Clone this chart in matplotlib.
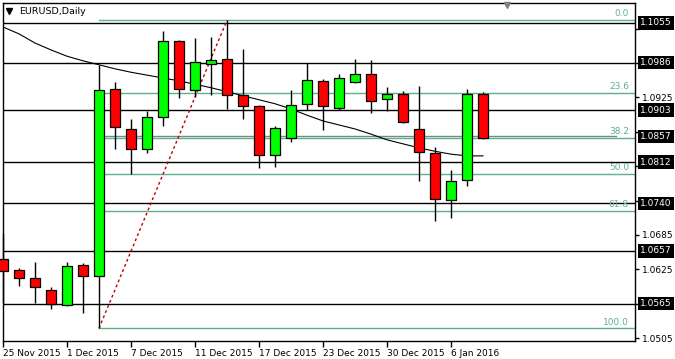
import matplotlib
matplotlib.use('Agg')
import matplotlib.pyplot as plt
from matplotlib.patches import Rectangle
from matplotlib.transforms import blended_transform_factory

# ---------------- data ----------------
dates = ['25 Nov 2015', '26 Nov 2015', '27 Nov 2015', '30 Nov 2015', '1 Dec 2015',
         '2 Dec 2015', '3 Dec 2015', '4 Dec 2015', '7 Dec 2015', '8 Dec 2015',
         '9 Dec 2015', '10 Dec 2015', '11 Dec 2015', '14 Dec 2015', '15 Dec 2015',
         '16 Dec 2015', '17 Dec 2015', '18 Dec 2015', '21 Dec 2015', '22 Dec 2015',
         '23 Dec 2015', '24 Dec 2015', '28 Dec 2015', '29 Dec 2015', '30 Dec 2015',
         '31 Dec 2015', '4 Jan 2016', '5 Jan 2016', '6 Jan 2016', '7 Jan 2016',
         '8 Jan 2016']
opens = [1.0643, 1.0624, 1.0610, 1.0589, 1.0563, 1.0632, 1.0613, 1.0940, 1.0870, 1.0835,
         1.0891, 1.1024, 1.0938, 1.0983, 1.0992, 1.0929, 1.0910, 1.0825, 1.0854, 1.0914,
         1.0954, 1.0907, 1.0952, 1.0966, 1.0922, 1.0931, 1.0870, 1.0828, 1.0746, 1.0781,
         1.0931]
highs = [1.0688, 1.0627, 1.0638, 1.0594, 1.0638, 1.0636, 1.0982, 1.0952, 1.0887, 1.0901,
         1.1041, 1.1026, 1.1029, 1.1031, 1.1060, 1.1010, 1.0912, 1.0875, 1.0938, 1.0985,
         1.0957, 1.0966, 1.0992, 1.0990, 1.0943, 1.0936, 1.0945, 1.0838, 1.0798, 1.0940,
         1.0935]
lows = [1.0566, 1.0596, 1.0566, 1.0556, 1.0561, 1.0549, 1.0522, 1.0835, 1.0791, 1.0828,
        1.0875, 1.0924, 1.0926, 1.0929, 1.0905, 1.0887, 1.0802, 1.0804, 1.0847, 1.0903,
        1.0868, 1.0903, 1.0950, 1.0898, 1.0901, 1.0880, 1.0779, 1.0709, 1.0715, 1.0770,
        1.0852]
closes = [1.0622, 1.0610, 1.0594, 1.0564, 1.0631, 1.0613, 1.0938, 1.0873, 1.0835, 1.0891,
          1.1024, 1.0940, 1.0987, 1.0990, 1.0929, 1.0910, 1.0825, 1.0872, 1.0912, 1.0955,
          1.0910, 1.0959, 1.0966, 1.0919, 1.0931, 1.0882, 1.0830, 1.0748, 1.0779, 1.0931,
          1.0854]
ma_values = [1.1048, 1.1036, 1.1020, 1.1008, 1.0997, 1.0989, 1.0982, 1.0975, 1.0969, 1.0964,
             1.0959, 1.0954, 1.0948, 1.0942, 1.0935, 1.0928, 1.0921, 1.0914, 1.0905, 1.0894,
             1.0884, 1.0877, 1.0870, 1.0861, 1.0851, 1.0844, 1.0837, 1.0831, 1.0826, 1.0823,
             1.0823]
hline_prices = [1.1055, 1.0986, 1.0903, 1.0812, 1.0740, 1.0657, 1.0565]
box_prices = [1.1055, 1.0986, 1.0903, 1.0857, 1.0812, 1.0740, 1.0657, 1.0565]
fib_low, fib_high = 1.0522, 1.1060
fib_low_idx, fib_high_idx = 6, 14
fib_levels = [0.0, 23.6, 38.2, 50.0, 61.8, 100.0]
ytick_values = [1.1045, 1.0985, 1.0925, 1.0865, 1.0805, 1.0745, 1.0685, 1.0625, 1.0565, 1.0505]
tick_every = 4

# ---------------- figure ----------------
W, H = 675, 359
fig = plt.figure(figsize=(W / 100, H / 100), dpi=100)
ax = fig.add_axes([3 / W, 18 / H, 632 / W, 338 / H])
XMAX = 39.5
ax.set_xlim(0, XMAX)
ax.set_ylim(1.04998, 1.10899)

FONT = 'DejaVu Sans'
FS = 6.5
fib_color = '#5cb08e'

# horizontal lines
for p in hline_prices:
    ax.axhline(p, color='black', lw=1.0, zorder=1)

# fibonacci
rng = fib_high - fib_low
tr = blended_transform_factory(ax.transAxes, ax.transData)
for lvl in fib_levels:
    p = fib_high - rng * lvl / 100.0
    ax.plot([fib_low_idx, XMAX], [p, p], color=fib_color, lw=1.0, zorder=1.5)
    ax.text(0.9905, p + 0.0003, f'{lvl:.1f}', transform=tr, ha='right', va='bottom',
            fontsize=FS, color=fib_color, family=FONT, zorder=2)
# 38.2 line overlapped by the 1.0857 line
ax.plot([fib_low_idx, 38.3], [1.0857, 1.0857], color='#6f8f84', lw=1.0, zorder=1.6)
ax.plot([fib_low_idx, fib_high_idx], [fib_low, fib_high], color='#c00000', lw=1.0,
        ls=(0, (2, 2)), zorder=1.7)

# moving average
ax.plot(range(len(ma_values)), ma_values, color='black', lw=0.8, zorder=2)

# candles
bw = 0.62
for i, (o, h, l, c) in enumerate(zip(opens, highs, lows, closes)):
    ax.plot([i, i], [l, h], color='black', lw=1.0, zorder=3, clip_on=False,
            solid_capstyle='butt')
    fc = '#00ff00' if c >= o else '#ff0000'
    bottom = min(o, c)
    height = max(abs(c - o), 0.00005)
    ax.add_patch(Rectangle((i - bw / 2, bottom), bw, height, facecolor=fc,
                           edgecolor='black', lw=0.9, zorder=4, clip_on=False))

# axes styling
for s in ax.spines.values():
    s.set_color('black')
    s.set_linewidth(1.0)
ax.yaxis.tick_right()
ax.set_yticks(ytick_values)
# tick labels that sit under a price box are hidden, as in the reference
ylabels = []
for v in ytick_values:
    hidden = any(abs(v - b) < 0.0011 for b in box_prices)
    ylabels.append('' if hidden else f'{v:.4f}')
ax.set_yticklabels(ylabels, family=FONT, fontsize=FS)
ax.tick_params(axis='y', length=3, width=1, pad=2, colors='black')
xt = list(range(0, len(dates), tick_every))
ax.set_xticks(xt)
ax.set_xticklabels([dates[i] for i in xt], family=FONT, fontsize=FS, ha='left')
ax.tick_params(axis='x', length=4, width=1, pad=2, colors='black')

# price boxes
for p in box_prices:
    ax.text(1.008, p, f'{p:.4f}', transform=tr, ha='left', va='center', fontsize=FS,
            family=FONT, color='white', zorder=10, clip_on=False,
            bbox=dict(boxstyle='square,pad=0.25', fc='black', ec='none'))

# title and markers
fig.text(19 / W, 1 - 11 / H, 'EURUSD,Daily', fontsize=FS + 0.3, family=FONT,
         va='center', ha='left')
fig.add_artist(plt.Line2D([9 / W], [1 - 11 / H], marker='v', ms=4.5, color='black',
                          transform=fig.transFigure))
fig.add_artist(plt.Line2D([507 / W], [1 - 5 / H], marker='v', ms=5, color='#808080',
                          transform=fig.transFigure))

fig.savefig('out.png', dpi=100, facecolor='white')
